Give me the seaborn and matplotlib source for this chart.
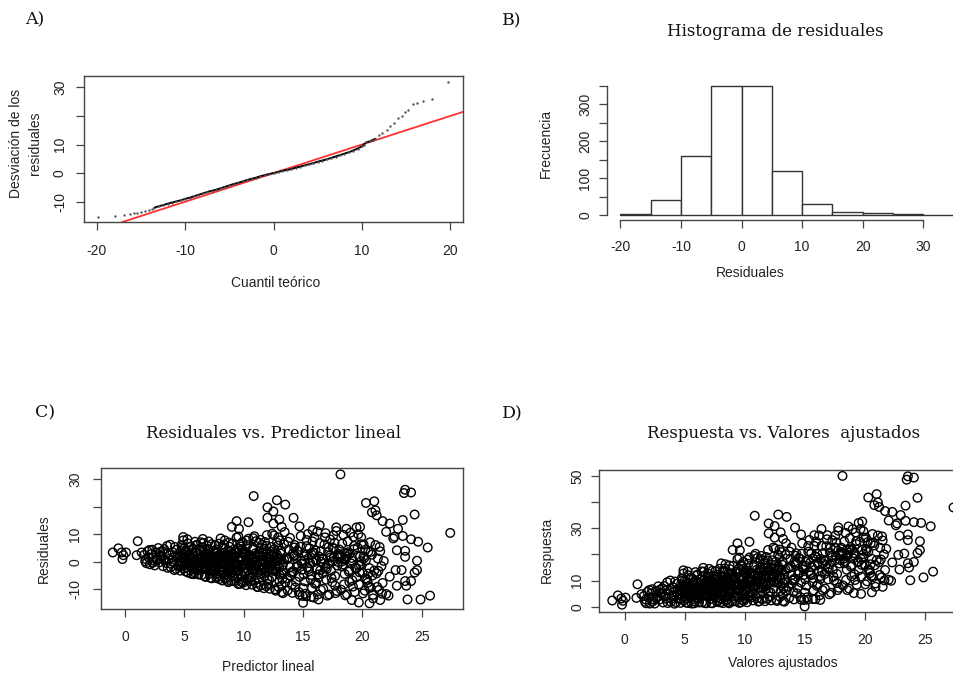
import matplotlib
matplotlib.use("Agg")
import matplotlib.pyplot as plt
import numpy as np
import pandas as pd
import seaborn as sns

# ---------------- data ----------------
# A) QQ plot: theoretical quantiles vs sorted residuals
qq_theoretical = [-19.9, -17.9, -16.9, -16.2, -15.8, -15.4, -15.0, -14.6, -14.1, -13.8,
                  -13.5, -13.0, -12.5, -12.0, -11.5, -11.0, -10.5, -10.0, -9.5, -9.0,
                  -8.5, -8.0, -7.5, -7.0, -6.5, -6.0, -5.5, -5.0, -4.5, -4.0,
                  -3.5, -3.0, -2.5, -2.0, -1.5, -1.0, -0.5, 0.0, 0.5, 1.0,
                  1.5, 2.0, 2.5, 3.0, 3.5, 4.0, 4.5, 5.0, 5.5, 6.0,
                  6.5, 7.0, 7.5, 8.0, 8.5, 9.0, 9.5, 10.0, 10.2, 10.5,
                  10.9, 11.2, 11.5,
                  11.96, 12.3, 12.8, 13.17, 13.6, 14.1, 14.48, 14.86, 15.24, 15.73,
                  16.25, 16.93, 17.87, 19.75]
qq_sample = [-15.4, -15.0, -14.7, -14.2, -14.0, -13.9, -13.6, -13.2, -12.8, -12.5,
             -12.1, -11.6, -11.2, -10.7, -10.3, -9.9, -9.5, -9.0, -8.6, -8.1,
             -7.6, -7.1, -6.6, -6.2, -5.8, -5.3, -4.8, -4.3, -3.8, -3.4,
             -2.9, -2.4, -2.0, -1.6, -1.1, -0.7, -0.3, 0.0, 0.4, 0.8,
             1.1, 1.4, 1.9, 2.3, 2.7, 3.1, 3.5, 4.0, 4.4, 4.8,
             5.3, 5.8, 6.3, 6.8, 7.3, 7.9, 8.6, 9.4, 10.0, 10.8,
             11.1, 11.6, 12.0,
             13.2, 14.1, 15.2, 16.4, 17.6, 19.1, 20.1, 21.3, 22.2, 24.0,
             24.5, 25.1, 25.9, 31.9]
qq_dense_range = (-13.5, 11.5)
qq_ref_intercept = 0.0
qq_ref_slope = 1.0

# B) histogram of residuals
hist_bin_starts = [-20, -15, -10, -5, 0, 5, 10, 15, 20, 25, 30]
hist_bin_width = 5
hist_counts = [2, 42, 159, 349, 349, 120, 29, 8, 6, 2, 1]

# C) / D) fitted values and residuals (response = fitted + residual)
fitted_values = [
    -1.03, -0.56, -0.28, -0.22, -0.14, 0.08, 1.07, 0.98, 1.4,
    1.6, 1.7, 1.8, 1.9, 2.0, 2.1, 2.2, 2.3, 2.4, 2.5, 2.6, 2.7, 2.8, 2.9, 3.0,
    1.75, 2.05, 2.35, 2.65, 2.95,
    3.1, 3.2, 3.3, 3.4, 3.5, 3.6, 3.7, 3.8, 3.9, 4.0, 4.1, 4.2, 4.3, 4.4, 4.5,
    3.15, 3.45, 3.75, 4.05, 4.35, 3.25, 3.55, 3.85, 4.15,
    4.6, 4.7, 4.8, 4.9, 5.0, 5.1, 5.2, 5.3, 5.4, 5.5, 5.6, 5.7, 5.8, 5.9, 6.0,
    4.65, 4.85, 5.05, 5.25, 5.45, 5.65, 5.85, 4.75, 4.95, 5.15, 5.35, 5.55, 5.75, 5.95,
    4.9, 5.3, 5.7, 4.8, 5.2, 5.6, 6.0, 5.0, 5.4, 5.8, 4.7,
    6.1, 6.2, 6.3, 6.4, 6.5, 6.6, 6.7, 6.8, 6.9, 7.0, 7.1, 7.2, 7.3, 7.4, 7.5,
    6.15, 6.35, 6.55, 6.75, 6.95, 7.15, 7.35, 6.05, 6.25, 6.45, 6.65, 6.85, 7.05, 7.25, 7.45,
    6.2, 6.5, 6.8, 7.1, 7.4, 6.3, 6.6, 6.9, 7.2, 6.4, 6.7, 7.0, 7.3, 6.1, 6.9,
    7.6, 7.7, 7.8, 7.9, 8.0, 8.1, 8.2, 8.3, 8.4, 8.5, 8.6, 8.7, 8.8, 8.9, 9.0,
    7.65, 7.85, 8.05, 8.25, 8.45, 8.65, 8.85, 7.55, 7.75, 7.95, 8.15, 8.35, 8.55, 8.75, 8.95,
    7.7, 8.0, 8.3, 8.6, 8.9, 7.8, 8.1, 8.4, 8.7, 7.6, 7.9, 8.2, 8.5, 8.8,
    7.75, 8.05, 8.35, 8.65, 8.95, 8.25,
    9.1, 9.2, 9.3, 9.4, 9.5, 9.6, 9.7, 9.8, 9.9, 10.0, 10.1, 10.2, 10.3, 10.4, 10.5,
    9.15, 9.35, 9.55, 9.75, 9.95, 10.15, 10.35, 9.05, 9.25, 9.45, 9.65, 9.85, 10.05, 10.25, 10.45,
    9.2, 9.5, 9.8, 10.1, 10.4, 9.3, 9.6, 9.9, 10.2, 9.1, 9.4, 9.7, 10.0, 10.3,
    9.25, 9.55, 9.85, 10.15, 10.45, 9.75,
    10.6, 10.7, 10.8, 10.9, 11.0, 11.1, 11.2, 11.3, 11.4, 11.5, 11.6, 11.7, 11.8, 11.9, 12.0,
    10.65, 10.85, 11.05, 11.25, 11.45, 11.65, 11.85, 10.55, 10.75, 10.95, 11.15, 11.35, 11.55, 11.75, 11.95,
    10.7, 11.0, 11.3, 11.6, 11.9, 10.8, 11.1, 11.4, 11.7, 10.6, 10.9, 11.2, 11.5, 11.8, 11.05,
    12.1, 12.2, 12.3, 12.4, 12.5, 12.6, 12.7, 12.8, 12.9, 13.0, 13.1, 13.2, 13.3, 13.4, 13.5,
    12.15, 12.35, 12.55, 12.75, 12.95, 13.15, 13.35, 12.05, 12.25, 12.45, 12.65, 12.85, 13.05, 13.25, 13.45,
    12.2, 12.6, 13.0, 13.4, 12.4, 12.8, 13.2, 12.3, 12.9, 13.3,
    13.6, 13.7, 13.8, 13.9, 14.0, 14.1, 14.2, 14.3, 14.4, 14.5, 14.6, 14.7, 14.8, 14.9, 15.0,
    13.65, 13.85, 14.05, 14.25, 14.45, 14.65, 14.85, 13.75, 13.95, 14.15, 14.35, 14.55, 14.75, 14.95, 14.2,
    15.1, 15.2, 15.3, 15.4, 15.5, 15.6, 15.7, 15.8, 15.9, 16.0, 16.1, 16.2, 16.3, 16.4, 16.5,
    15.15, 15.35, 15.55, 15.75, 15.95, 16.15, 16.35, 15.05, 15.25, 15.45, 15.65, 15.85, 16.05, 16.25, 16.45,
    15.3, 15.7, 16.1, 16.5, 15.9,
    16.6, 16.7, 16.8, 16.9, 17.0, 17.1, 17.2, 17.3, 17.4, 17.5, 17.6, 17.7, 17.8, 17.9, 18.0,
    16.65, 16.85, 17.05, 17.25, 17.45, 17.65, 17.85, 16.75, 16.95, 17.15, 17.35, 17.55, 17.75, 17.95, 17.6,
    18.1, 18.2, 18.3, 18.4, 18.5, 18.6, 18.7, 18.8, 18.9, 19.0, 19.1, 19.2, 19.3, 19.4, 19.5,
    18.15, 18.35, 18.55, 18.75, 18.95, 19.15, 19.35, 18.05, 18.25, 18.45, 18.65, 18.85, 19.05, 19.25, 18.5,
    19.6, 19.7, 19.8, 19.9, 20.0, 20.1, 20.2, 20.3, 20.4, 20.5, 20.6, 20.7, 20.8, 20.9, 21.0,
    19.65, 19.85, 20.05, 20.25, 20.45, 20.65, 20.85, 19.75, 20.15, 20.55,
    21.1, 21.2, 21.3, 21.4, 21.5, 21.6, 21.7, 21.8, 21.25, 21.45, 21.65, 21.35,
    # dense core
    4.6, 5.0, 5.4, 5.8, 6.2, 6.6, 7.0, 7.4, 7.8, 8.2, 8.6, 9.0,
    9.4, 9.8, 10.2, 10.6, 11.0, 11.4, 11.8, 12.2, 12.6, 13.0, 4.8, 5.2,
    5.6, 6.0, 6.4, 6.8, 7.2, 7.6, 8.0, 8.4, 8.8, 9.2, 9.6, 10.0,
    10.4, 10.8, 11.2, 11.6, 12.0, 12.4, 12.8, 13.2, 4.7, 5.1, 5.5, 5.9,
    6.3, 6.7, 7.1, 7.5, 7.9, 8.3, 8.7, 9.1, 9.5, 9.9, 10.3, 10.7,
    11.1, 11.5, 11.9, 12.3, 12.7, 13.1, 4.9, 5.3, 5.7, 6.1, 6.5, 6.9,
    7.3, 7.7, 8.1, 8.5, 8.9, 9.3, 9.7, 10.1, 10.5, 10.9, 11.3, 11.7,
    12.1, 12.5, 12.9, 13.3, 5.15, 5.95, 6.75, 7.55, 8.35, 9.15, 9.95, 10.75,
    11.55, 12.35, 6.35, 7.15, 7.95, 8.75, 9.55, 10.35, 11.15, 11.95,
    13.7, 14.1, 14.5, 14.9, 15.3, 15.7, 16.1, 16.5, 16.9, 17.3, 17.7, 18.1,
    18.5, 18.9, 19.3, 19.7, 20.1, 20.5, 13.9, 14.3, 14.7, 15.1, 15.5, 15.9,
    16.3, 16.7, 17.1, 17.5, 17.9, 18.3, 18.7, 19.1, 19.5, 19.9, 20.3, 20.7,
    # sparse outer points
    10.84, 12.8, 13.5, 12.0, 12.5, 12.0, 13.0, 14.2, 9.4, 10.4,
    9.0, 9.6, 12.5, 13.2, 14.7, 18.15, 20.3, 21.0, 21.1, 20.8,
    21.2, 23.5, 23.6, 24.1, 24.4, 21.7, 22.3, 23.4, 23.0, 27.4,
    25.5, 24.7, 24.1, 23.4, 22.7, 22.0, 24.6, 24.6, 24.4, 23.6,
    23.6, 23.3, 22.8, 22.3, 22.9, 23.6, 24.1, 23.7, 23.8, 24.9,
    25.7, 22.0, 22.2, 21.5, 20.9, 20.6, 19.7, 19.1, 15.0, 16.3,
    22.9, 22.6, 15.8, 16.4, 17.8, 18.65, 19.5, 19.8, 19.9,
]
residuals = [
    3.4, 4.9, 3.4, 1.0, 2.4, 3.4, 7.5, 2.4, 3.4,
    2.5, 0.2, -0.5, 3.8, 1.5, -0.9, 2.8, 4.4, 0.4, -1.3, 3.3, 1.2, 5.0, -0.2, 2.2,
    1.0, 4.3, -0.3, 0.6, 3.6,
    1.8, -1.6, 4.6, 0.5, 2.9, -2.2, 1.1, 6.2, -0.8, 3.5, 0.0, 5.4, -2.6, 2.0, -1.5,
    3.9, -0.4, 2.4, 1.5, 4.4, 0.9, 5.8, -2.0, -3.0,
    2.1, -1.8, 5.3, 9.0, 0.6, -3.5, 3.6, 6.7, -0.9, 1.9, -4.4, 4.8, 0.2, 7.3, -2.6,
    -3.2, 3.0, -1.2, 8.2, 2.7, 0.9, -3.8, 6.0, -2.5, 4.2, -0.3, 5.6, -1.4, 3.3,
    7.8, -3.9, 2.4, 1.2, -2.0, -0.8, 5.9, 4.9, 1.4, -4.5, 3.9,
    1.3, -4.6, 4.2, 7.1, -2.2, 0.5, -5.3, 3.1, 5.9, -1.0, 2.2, -5.8, 6.4, 0.0, -3.6,
    -3.0, 2.6, 8.3, -1.6, 4.7, -4.2, 1.7, 6.2, -0.6, -4.8, 3.6, -2.8, 7.4, -0.2, 4.0,
    0.9, 5.2, -5.5, 1.4, -1.5, -2.0, 6.8, 2.9, -3.2, 1.9, -0.9, 3.9, -6.0, -2.9, 0.3,
    0.8, -5.9, 3.4, 6.6, -2.7, 1.5, -6.8, 4.9, 7.8, -1.1, 2.6, -7.4, 5.5, 0.1, -3.9,
    -4.3, 2.0, 8.5, -0.5, -6.2, 4.1, -2.4, 6.0, -1.7, -6.3, 3.0, 0.6, -4.7, 7.0, 1.8,
    4.5, -3.5, -0.8, -6.9, 3.6, -5.4, 0.2, 2.3, -3.0, -2.0, 1.1, 5.3, -5.7, -1.6,
    -0.3, -4.9, 6.3, 1.3, -7.0, -1.9,
    1.6, -7.1, 4.0, 8.8, -3.1, 0.7, -8.0, 5.6, 7.2, -1.4, 2.8, -8.5, 6.1, -0.2, -4.6,
    -5.0, 3.3, 9.2, -2.0, -7.6, 1.9, -6.5, 6.6, -0.9, -5.8, 3.9, 0.3, -3.7, 7.7, 2.4,
    -2.6, 5.0, -7.3, -1.0, 8.4, -4.2, 1.2, -5.3, 3.6, -0.4, -3.3, 6.4, -6.8, 0.9,
    2.1, -8.1, 4.6, -2.3, -6.0, -4.8,
    2.2, -8.3, 5.1, 9.3, -2.5, 0.4, -9.1, 6.9, 8.0, -4.1, 3.5, -9.6, -0.6, 5.8, -6.4,
    -5.6, 1.0, 7.5, -1.8, -8.6, 2.9, -3.4, -7.0, 4.4, -0.1, -9.2, 1.7, 6.2, -5.1, 9.7,
    -3.0, 3.1, -6.0, 0.6, -8.9, 8.6, -1.2, -4.5, 4.8, -0.9, -6.9, 2.5, -2.1, 7.2, -7.8,
    1.5, -9.8, 5.4, 10.2, -3.3, 0.0, -10.5, 7.0, 8.9, -4.7, 3.0, -11.0, -1.1, 6.4, -7.5,
    -6.6, 2.3, 9.6, -2.4, -9.2, 4.1, -4.0, -8.1, 3.8, -0.4, -10.0, 1.1, 7.8, -6.2, 10.8,
    -2.7, 4.6, -7.0, 0.8, -5.5, 2.6, -8.6, -1.7, 5.9, -11.4,
    0.9, -10.4, 4.5, 8.7, -4.0, -11.3, 2.2, 6.1, -7.2, -0.8, 3.8, -12.0, 9.4, -2.9, -9.6,
    -6.0, 1.6, -8.4, 5.2, -2.0, -11.0, 0.4, 7.3, -5.1, 3.1, -9.3, -1.5, 5.5, -12.4, -3.6,
    2.0, -11.6, 5.7, 10.1, -3.5, -0.5, -12.8, 7.4, 3.2, -8.0, 0.8, 11.0, -5.7, 6.8, -10.2,
    -7.1, -1.9, 4.9, -9.5, 8.9, -2.7, 1.9, -4.6, -12.5, 1.3, -6.4, -0.2, 4.1, -11.9, -3.1,
    7.9, 2.8, -7.7, 0.1, -13.0,
    1.1, -9.8, 6.3, 10.4, -2.6, 3.6, -11.9, 8.1, -5.9, 0.2, 4.8, -8.7, 11.2, -1.4, 2.9,
    -4.2, 8.9, -12.3, 2.3, -7.4, 6.9, -10.6, -0.7, -6.5, 5.4, -3.3, 9.6, -11.4, -0.1, 1.8,
    2.4, -10.1, 6.6, 9.8, -4.4, 1.2, -11.8, 3.5, -7.3, 10.6, 0.5, -9.0, 5.8, -2.2, -5.6,
    1.9, -1.0, -12.2, 7.4, 2.9, -6.7, -11.0, 4.5, 0.1, -8.2, 2.0, -3.6, -0.6, 9.1, 3.1,
    5.2, -8.2, 1.9, 8.9, -4.0, 6.3, -10.5, 0.6, -6.6, 3.7, -2.3, -9.4, 2.6, -12.0, -3.2,
    10.0, -1.1, -11.5, 4.4, -7.6, 7.1, -5.0, -3.8, 1.3, -8.9,
    6.1, -4.2, 1.2, -10.2, 3.8, -1.6, -7.7, 0.3, -9.1, 5.4, -11.6, -3.3,
    # dense core
    0.5, -1.2, 2.3, -2.8, 1.0, -0.4, 2.7, -3.3, 0.2, 1.6, -2.1, 3.0,
    -0.8, 1.9, -3.6, 0.7, -1.5, 2.4, -4.0, 0.1, 3.3, -2.2, 1.4, -0.6,
    1.1, -2.5, 0.3, 2.0, -1.8, 3.4, -0.9, 1.3, -3.0, 0.4, -2.7, 2.8,
    -1.1, 0.9, -3.8, 2.1, -0.3, -2.9, 1.7, -4.4, -0.2, 2.6, -1.9, 0.8,
    -0.1, -2.4, 1.2, -1.4, 2.5, -0.7, -3.7, 1.9, -1.3, 3.1, -0.5, -2.6,
    1.5, -3.1, 2.9, -0.9, -3.4, 0.6, 1.8, -0.6, 3.2, -1.6, 0.0, 1.4,
    -2.3, 0.9, -1.0, 2.2, -3.2, -1.9, 0.5, -4.2, 2.0, -1.3, 3.6, -2.8,
    -0.4, 2.2, -1.2, -3.0, 0.4, 3.6, -2.0, 0.9, -0.3, 2.6, -0.8, 1.2,
    -2.4, -1.1, -1.6, 3.2, -2.2, 0.3, -1.0, -3.1, 0.6, 1.9,
    1.2, -3.5, 4.1, -0.6, 2.7, -4.8, 0.3, 3.9, -2.1, 1.6, -5.2, 2.2,
    0.8, -3.0, 4.6, -1.5, 2.0, -4.3, -1.9, 2.5, -5.5, 0.5, -2.6, 3.3,
    -4.6, 1.0, -0.8, 5.1, 1.9, -1.7, 3.0, 1.4, -2.4, 0.2, -6.0, 3.6,
    # sparse outer points
    23.9, 22.4, 20.8, 19.8, 18.3, 16.0, 15.4, 16.0, 14.8, 14.4,
    12.7, 12.0, 13.9, 12.7, 12.9, 31.8, 21.4, 22.0, 18.7, 18.0,
    16.9, 25.0, 26.2, 25.2, 17.2, 14.8, 13.9, 15.2, 12.0, 10.5,
    5.2, 7.3, 8.2, 9.4, 9.1, 10.9, 0.4, -3.0, -3.9, 1.8,
    4.0, -3.0, -3.0, -5.4, -8.7, -7.0, -7.0, -8.7, -13.7, -13.7,
    -12.3, -11.7, -12.3, -13.9, -13.3, -15.1, -14.8, -13.9, -14.9, -13.7,
    4.2, 8.5, 11.5, 13.3, 12.5, 12.0, 12.5, 12.7, 6.4,
]

# tick labels (R drops overlapping labels)
a_xticks = [-20, -10, 0, 10, 20]
a_yticks = [-10, 0, 10, 20, 30]
a_yticklabels = ["-10", "0", "10", "", "30"]
b_xticks = [-20, -10, 0, 10, 20, 30]
b_yticks = [0, 50, 100, 150, 200, 250, 300, 350]
b_yticklabels = ["0", "", "100", "", "200", "", "300", ""]
c_xticks = [0, 5, 10, 15, 20, 25]
c_yticks = [-10, 0, 10, 20, 30]
c_yticklabels = ["-10", "0", "10", "", "30"]
d_xticks = [0, 5, 10, 15, 20, 25]
d_yticks = [0, 10, 20, 30, 40, 50]
d_yticklabels = ["0", "10", "", "30", "", "50"]

assert len(qq_theoretical) == len(qq_sample)
assert len(fitted_values) == len(residuals)

qq = pd.DataFrame({"q": qq_theoretical, "s": qq_sample})
qq_dense = qq[(qq.q >= qq_dense_range[0]) & (qq.q <= qq_dense_range[1])]
hist_df = pd.DataFrame({"mid": [b + hist_bin_width / 2 for b in hist_bin_starts],
                        "n": hist_counts})
hist_edges = hist_bin_starts + [hist_bin_starts[-1] + hist_bin_width]
fit_df = pd.DataFrame({"fitted": fitted_values, "resid": residuals})
fit_df["response"] = fit_df.fitted + fit_df.resid

# ---------------- style ----------------
sns.set_style("white")
plt.rcParams["font.family"] = ["Liberation Sans", "DejaVu Sans"]
SERIF = ["DejaVu Serif"]
W, H = 954, 677
fig = plt.figure(figsize=(W / 100, H / 100), dpi=100)


def rect(l, t, r, b):
    return [l / W, 1 - b / H, (r - l) / W, (b - t) / H]


def ftext(x, y, s, **kw):
    fig.text(x / W, 1 - y / H, s, **kw)


TICK_C = "#444444"
LAB_C = "#222222"


def style_box(ax, xpad, ypad):
    for sp in ax.spines.values():
        sp.set_visible(True)
        sp.set_color(TICK_C)
        sp.set_linewidth(1.0)
    ax.tick_params(axis="both", which="both", direction="out", length=5.8, width=0.9,
                   color=TICK_C, labelsize=10, labelcolor=LAB_C,
                   bottom=True, left=True, top=False, right=False)
    ax.tick_params(axis="x", pad=xpad)
    ax.tick_params(axis="y", pad=ypad)
    for lab in ax.get_yticklabels():
        lab.set_rotation(90)
        lab.set_va("center")
    ax.set_xlabel("")
    ax.set_ylabel("")


# ---------------- A) QQ ----------------
axA = fig.add_axes(rect(84, 76, 463.3, 222.3))
axA.axline((0, qq_ref_intercept), slope=qq_ref_slope, color="#ff3030", lw=1.3, zorder=1)
sns.lineplot(data=qq_dense, x="q", y="s", ax=axA, color="black", lw=1.4,
             estimator=None, sort=True, zorder=2)
sns.scatterplot(data=qq, x="q", y="s", ax=axA, color="#555555", s=3, linewidth=0, zorder=3)
axA.set_xlim(-21.45, 21.45)
axA.set_ylim(-17.2, 33.95)
axA.set_xticks(a_xticks)
axA.set_xticklabels([str(t) for t in a_xticks])
axA.set_yticks(a_yticks)
axA.set_yticklabels(a_yticklabels)
style_box(axA, xpad=9.5, ypad=6.5)

# ---------------- B) histogram ----------------
axB = fig.add_axes(rect(607, 80.8, 967, 220.2))
sns.histplot(data=hist_df, x="mid", weights="n", bins=hist_edges, ax=axB,
             color="white", edgecolor="#333333", linewidth=1.0, alpha=1.0)
axB.set_xlim(-22.2, 37.2)
axB.set_ylim(-14, 364)
axB.spines["top"].set_visible(False)
axB.spines["right"].set_visible(False)
for side in ["left", "bottom"]:
    axB.spines[side].set_visible(True)
    axB.spines[side].set_color(TICK_C)
    axB.spines[side].set_linewidth(1.0)
axB.spines["bottom"].set_bounds(b_xticks[0], b_xticks[-1])
axB.spines["left"].set_bounds(b_yticks[0], b_yticks[-1])
axB.set_xticks(b_xticks)
axB.set_xticklabels([str(t) for t in b_xticks])
axB.set_yticks(b_yticks)
axB.set_yticklabels(b_yticklabels)
axB.tick_params(axis="both", direction="out", length=5.8, width=0.9, color=TICK_C,
                labelsize=10, labelcolor=LAB_C, bottom=True, left=True)
axB.tick_params(axis="x", pad=8.5)
axB.tick_params(axis="y", pad=5)
for lab in axB.get_yticklabels():
    lab.set_rotation(90)
    lab.set_va("center")
axB.set_xlabel("")
axB.set_ylabel("")

# ---------------- C) residuals vs fitted ----------------
axC = fig.add_axes(rect(100.7, 468.3, 462.7, 609))
sns.scatterplot(data=fit_df, x="fitted", y="resid", ax=axC, s=38,
                facecolor="none", edgecolor="black", linewidth=1.0)
axC.set_xlim(-2.05, 28.45)
axC.set_ylim(-17.16, 34.0)
axC.set_xticks(c_xticks)
axC.set_xticklabels([str(t) for t in c_xticks])
axC.set_yticks(c_yticks)
axC.set_yticklabels(c_yticklabels)
style_box(axC, xpad=9.5, ypad=7.5)

# ---------------- D) response vs fitted ----------------
axD = fig.add_axes(rect(598.7, 470, 966.7, 611.7))
sns.scatterplot(data=fit_df, x="fitted", y="response", ax=axD, s=38,
                facecolor="none", edgecolor="black", linewidth=1.0)
axD.set_xlim(-2.16, 28.5)
axD.set_ylim(-1.9, 52.2)
axD.set_xticks(d_xticks)
axD.set_xticklabels([str(t) for t in d_xticks])
axD.set_yticks(d_yticks)
axD.set_yticklabels(d_yticklabels)
style_box(axD, xpad=9.5, ypad=4.5)

# ---------------- texts ----------------
lab_kw = dict(fontsize=10, color=LAB_C, ha="center", va="center")
ftext(25.6, 143, "Desviación de los\nresiduales", rotation=90, linespacing=1.45,
      multialignment="center", **lab_kw)
ftext(275.3, 283, "Cuantil teórico", **lab_kw)
ftext(546, 143.5, "Frecuencia", rotation=90, **lab_kw)
ftext(750, 273.5, "Residuales", **lab_kw)
ftext(44, 549, "Residuales", rotation=90, **lab_kw)
ftext(268, 667, "Predictor lineal", **lab_kw)
ftext(547, 550, "Respuesta", rotation=90, **lab_kw)
ftext(783, 663.5, "Valores ajustados", **lab_kw)

panel_kw = dict(fontsize=12.5, family=SERIF, color="#111111", ha="left", va="baseline")
ftext(25, 24, "A)", **panel_kw)
ftext(502, 25, "B)", **panel_kw)
ftext(35, 417, "C)", **panel_kw)
ftext(502, 418, "D)", **panel_kw)

title_kw = dict(fontsize=12, family=SERIF, color="#111111", ha="center", va="baseline")
ftext(775.3, 35.7, "Histograma de residuales", **title_kw)
ftext(273.3, 438.3, "Residuales vs. Predictor lineal", **title_kw)
ftext(783.3, 438.3, "Respuesta vs. Valores  ajustados", **title_kw)

fig.savefig("out.png", dpi=100)
